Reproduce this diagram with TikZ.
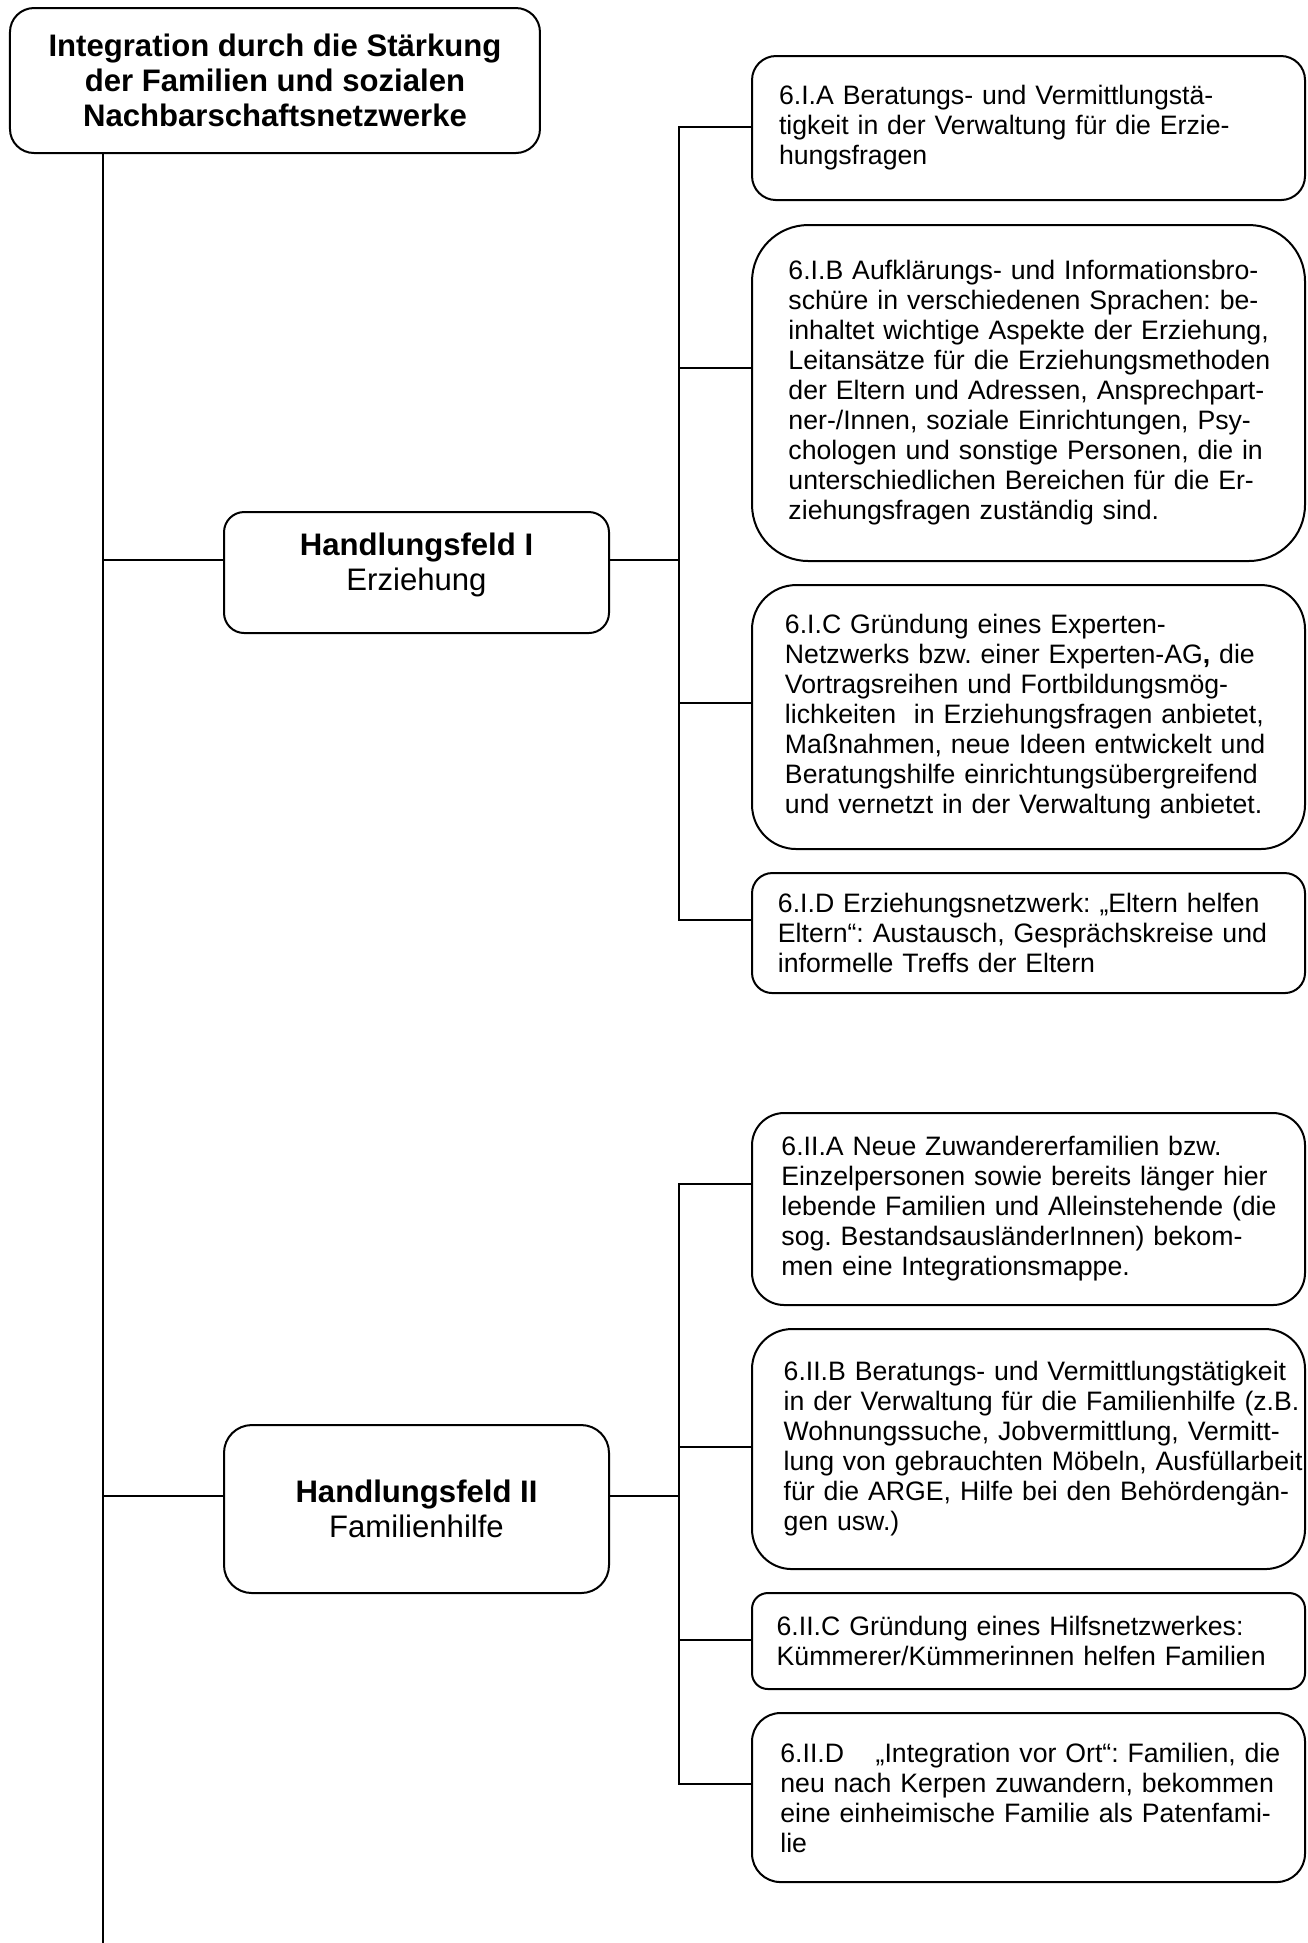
\documentclass[tikz,border=0pt]{standalone}
\usepackage{fontspec}
\setmainfont{Liberation Sans}
\usepackage{tikz}
\frenchspacing

\begin{document}
\begin{tikzpicture}[line width=0.9pt,
	box/.style={draw,anchor=north west,align=center,inner sep=0pt,font=\fontsize{14}{15.8}\selectfont},
	item/.style={draw,anchor=north west,rounded corners=#1,minimum width=8.746cm,text width=8.746cm,inner xsep=0pt,align=left,font=\fontsize{12}{13.5}\selectfont,
		execute at begin node={\pgfmathsetlength{\leftskip}{0.316cm+0.293*#1}}}]
		\useasboundingbox (0,0) rectangle (20.687,-30.73);
		%left column
		\node[box,rounded corners=0.38cm,minimum width=8.382cm,minimum height=2.293cm,font=\bfseries\fontsize{14}{15.8}\selectfont] (ziel) at (0.142,-0.111) {Integration durch die Stärkung\\der Familien und sozialen\\Nachbarschaftsnetzwerke};
		\node[box,rounded corners=0.32cm,minimum width=6.089cm,minimum height=1.914cm] (hfI) at (3.527,-8.082) {\textbf{Handlungsfeld I}\\Erziehung\\[-0.2cm]};
		\node[box,rounded corners=0.44cm,minimum width=6.089cm,minimum height=2.657cm] (hfII) at (3.527,-22.522) {\textbf{Handlungsfeld II}\\Familienhilfe};
		
		%Handlungsfeld I
		\node[item=0.38cm,minimum height=2.278cm] (mIA) at (11.878,-0.870) {6.I.A Beratungs- und Vermittlungstä-\\tigkeit in der Verwaltung für die Erzie-\\hungsfragen};
		\node[item=0.89cm,minimum height=5.314cm] (mIB) at (11.878,-3.543) {6.I.B Aufklärungs- und Informationsbro-\\schüre in verschiedenen Sprachen: be-\\inhaltet wichtige Aspekte der Erziehung,\\Leitansätze für die Erziehungsmethoden\\der Eltern und Adressen, Ansprechpart-\\ner-/Innen, soziale Einrichtungen, Psy-\\chologen und sonstige Personen, die in\\unterschiedlichen Bereichen für die Er-\\ziehungsfragen zuständig sind.};
		\node[item=0.70cm,minimum height=4.175cm] (mIC) at (11.878,-9.237) {6.I.C Gründung eines Experten-\\Netzwerks bzw. einer Experten-AG\textbf{,} die\\Vortragsreihen und Fortbildungsmög-\\lichkeiten\ \ in Erziehungsfragen anbietet,\\Maßnahmen, neue Ideen entwickelt und\\Beratungshilfe einrichtungsübergreifend\\und vernetzt in der Verwaltung anbietet.};
		\node[item=0.32cm,minimum height=1.898cm] (mID) at (11.878,-13.792) {6.I.D Erziehungsnetzwerk: „Eltern helfen\\Eltern“: Austausch, Gesprächskreise und\\informelle Treffs der Eltern};
		
		%Handlungsfeld II
		\node[item=0.51cm,minimum height=3.037cm] (mIIA) at (11.878,-17.587) {6.II.A Neue Zuwandererfamilien bzw.\\Einzelpersonen sowie bereits länger hier\\lebende Familien und Alleinstehende (die\\sog. BestandsausländerInnen) bekom-\\men eine Integrationsmappe.};
		\node[item=0.63cm,minimum height=3.796cm] (mIIB) at (11.878,-21.004) {6.II.B Beratungs- und Vermittlungstätigkeit\\in der Verwaltung für die Familienhilfe (z.B.\\Wohnungssuche, Jobvermittlung, Vermitt-\\lung von gebrauchten Möbeln, Ausfüllarbeit\\für die ARGE, Hilfe bei den Behördengän-\\gen usw.)};
		\node[item=0.25cm,minimum height=1.518cm] (mIIC) at (11.878,-25.179) {6.II.C Gründung eines Hilfsnetzwerkes:\\Kümmerer/Kümmerinnen helfen Familien};
		\node[item=0.45cm,minimum height=2.673cm] (mIID) at (11.878,-27.077) {6.II.D\hspace{0.5cm}„Integration vor Ort“: Familien, die\\neu nach Kerpen zuwandern, bekommen\\eine einheimische Familie als Patenfami-\\lie};
		
		%connectors
		\coordinate (fuss) at (1.629,-30.73);
		\coordinate (jI) at (10.739,-8.857);
		\coordinate (jII) at (10.739,-23.661);
		\coordinate (kIA) at (10.739,-2.009);
		\coordinate (kIB) at (10.739,-5.820);
		\coordinate (kIC) at (10.739,-11.119);
		\coordinate (kID) at (10.739,-14.551);
		\coordinate (kIIA) at (10.739,-18.726);
		\coordinate (kIIB) at (10.739,-22.886);
		\coordinate (kIIC) at (10.739,-25.938);
		\coordinate (kIID) at (10.739,-28.216);
		\draw (ziel.south -| fuss) -- (fuss);
		\draw (fuss |- jI) -- (jI -| hfI.west) (hfI.east |- jI) -- (jI);
		\draw (fuss |- jII) -- (jII -| hfII.west) (hfII.east |- jII) -- (jII);
		\draw (kIA -| mIA.west) -- (kIA) -- (kID) -- (kID -| mID.west);
		\draw (kIIA -| mIIA.west) -- (kIIA) -- (kIID) -- (kIID -| mIID.west);
		\foreach \n in {IB,IC,IIB,IIC}{
		\draw (k\n) -- (k\n -| m\n.west);}
		
		\end{tikzpicture}
\end{document}
